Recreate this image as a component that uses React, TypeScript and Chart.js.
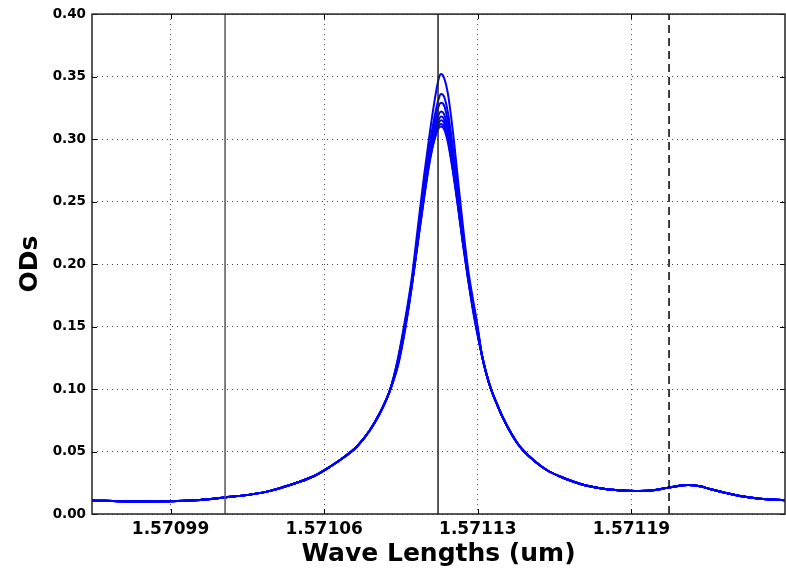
import React, { useEffect, useRef } from "react";
import { Chart, registerables } from "chart.js";

Chart.register(...registerables);

// X axis tick positions (wavelength, um) and their printed labels
const xTickValues = [1.570993, 1.5710595, 1.571126, 1.5711925];
const xTickLabels = ["1.57099", "1.57106", "1.57113", "1.57119"];
const xMin = 1.570959;
const xMax = 1.571259;
const yMin = 0;
const yMax = 0.4;

// Vertical marker lines (wavelengths)
const markerWl = [1.5710166, 1.5711088, 1.5712088];

// Shared left tail of the spectra
const leftTailWl = [
  1.570959, 1.5709755, 1.5709928, 1.5710058, 1.5710166, 1.5710274, 1.5710361,
  1.5710447, 1.5710547, 1.571062, 1.5710685, 1.5710737, 1.5710793, 1.5710837,
  1.571088,
];
const leftTailOd = [
  0.0108, 0.0101, 0.0102, 0.0112, 0.0132, 0.0155, 0.0185, 0.0232, 0.03, 0.0378,
  0.046, 0.054, 0.067, 0.081, 0.099,
];

// Peak region, one row per spectrum
const coreWl = [
  1.5710915, 1.5710945, 1.5710975, 1.5711001, 1.5711027, 1.5711053, 1.5711075,
  1.5711092, 1.5711101, 1.5711114, 1.5711131, 1.5711153, 1.5711174, 1.5711196,
  1.5711218, 1.5711239, 1.5711257,
];
const coreOd1 = [0.125, 0.155, 0.19, 0.23, 0.27, 0.306, 0.333, 0.349, 0.352, 0.349, 0.336, 0.305, 0.268, 0.23, 0.196, 0.172, 0.153];
const coreOd2 = [0.124, 0.153, 0.187, 0.225, 0.263, 0.297, 0.32, 0.333, 0.336, 0.334, 0.321, 0.292, 0.259, 0.225, 0.193, 0.169, 0.151];
const coreOd3 = [0.123, 0.152, 0.186, 0.223, 0.26, 0.293, 0.314, 0.327, 0.329, 0.327, 0.314, 0.287, 0.255, 0.222, 0.192, 0.168, 0.15];
const coreOd4 = [0.122, 0.151, 0.185, 0.221, 0.257, 0.29, 0.31, 0.32, 0.322, 0.32, 0.308, 0.282, 0.252, 0.22, 0.191, 0.167, 0.149];
const coreOd5 = [0.121, 0.15, 0.184, 0.22, 0.255, 0.288, 0.307, 0.316, 0.318, 0.316, 0.304, 0.279, 0.25, 0.219, 0.19, 0.166, 0.148];
const coreOd6 = [0.12, 0.149, 0.184, 0.219, 0.254, 0.286, 0.304, 0.313, 0.315, 0.313, 0.301, 0.277, 0.248, 0.217, 0.189, 0.165, 0.147];
const coreOd7 = [0.12, 0.148, 0.183, 0.218, 0.253, 0.284, 0.302, 0.311, 0.312, 0.31, 0.299, 0.275, 0.247, 0.216, 0.188, 0.164, 0.146];
const coreOd8 = [0.119, 0.147, 0.183, 0.218, 0.252, 0.283, 0.301, 0.309, 0.31, 0.308, 0.297, 0.273, 0.246, 0.216, 0.188, 0.163, 0.145];

// Shared right tail of the spectra
const rightTailWl = [
  1.5711278, 1.5711296, 1.5711317, 1.5711343, 1.5711369, 1.57114, 1.571143,
  1.5711456, 1.5711508, 1.571156, 1.5711616, 1.5711672, 1.5711724, 1.5711776,
  1.5711867, 1.5711941, 1.5712006, 1.5712092, 1.571217, 1.5712222, 1.5712265,
  1.571233, 1.5712395, 1.5712482, 1.571259,
];
const rightTailOd = [
  0.127, 0.113, 0.1, 0.088, 0.077, 0.066, 0.057, 0.051, 0.042, 0.035, 0.03,
  0.026, 0.023, 0.021, 0.019, 0.0184, 0.0188, 0.0213, 0.0232, 0.0222, 0.02,
  0.017, 0.0144, 0.0122, 0.0111,
];

const FONT = "'DejaVu Sans', 'Liberation Sans', sans-serif";

const framePlugin = {
  id: "frameTicks",
  afterDatasetsDraw(chart: any) {
    const { ctx, chartArea, scales } = chart;
    const { left, right, top, bottom } = chartArea;
    const x = scales.x;
    const y = scales.y;
    ctx.save();
    ctx.setLineDash([]);
    ctx.strokeStyle = "#000";
    ctx.lineWidth = 1;
    ctx.beginPath();
    x.ticks.forEach((t: any) => {
      const px = Math.round(x.getPixelForValue(t.value)) + 0.5;
      ctx.moveTo(px, bottom);
      ctx.lineTo(px, bottom - 5);
      ctx.moveTo(px, top);
      ctx.lineTo(px, top + 5);
    });
    y.ticks.forEach((t: any) => {
      const py = Math.round(y.getPixelForValue(t.value)) + 0.5;
      ctx.moveTo(left, py);
      ctx.lineTo(left + 5, py);
      ctx.moveTo(right, py);
      ctx.lineTo(right - 5, py);
    });
    ctx.stroke();
    ctx.strokeStyle = "#222";
    ctx.lineWidth = 1.5;
    ctx.strokeRect(left, top, right - left, bottom - top);
    ctx.restore();
  },
};

export default function App() {
  const ref = useRef<HTMLCanvasElement>(null);

  useEffect(() => {
    document.body.style.margin = "0";
    const cores = [coreOd1, coreOd2, coreOd3, coreOd4, coreOd5, coreOd6, coreOd7, coreOd8];
    const makeSeries = (core: number[]) => [
      ...leftTailWl.map((w, i) => ({ x: w, y: leftTailOd[i] })),
      ...coreWl.map((w, i) => ({ x: w, y: core[i] })),
      ...rightTailWl.map((w, i) => ({ x: w, y: rightTailOd[i] })),
    ];
    const markerColors = ["#555", "#222", "#000"];
    const datasets: any[] = [
      ...markerWl.map((w, i) => ({
        data: [
          { x: w, y: yMin },
          { x: w, y: yMax },
        ],
        borderColor: markerColors[i],
        borderWidth: 1.5,
        borderDash: i === 2 ? [8, 5] : [],
        pointRadius: 0,
        tension: 0,
        order: 0,
      })),
      ...cores.map((c) => ({
        data: makeSeries(c),
        borderColor: "#0000ff",
        borderWidth: 2,
        pointRadius: 0,
        cubicInterpolationMode: "monotone",
        order: 1,
      })),
    ];

    const tickFontY = { family: FONT, size: 13.5, weight: "bold" as const };
    const tickFontX = { family: FONT, size: 17, weight: "bold" as const };
    const titleFont = { family: FONT, size: 25, weight: "bold" as const, lineHeight: 1.1 };

    const chart = new Chart(ref.current as HTMLCanvasElement, {
      type: "line",
      data: { datasets },
      options: {
        animation: false,
        responsive: false,
        devicePixelRatio: 1,
        layout: { padding: { top: 14, right: 1, left: 0, bottom: 0 } },
        plugins: { legend: { display: false }, tooltip: { enabled: false } },
        scales: {
          x: {
            type: "linear",
            min: xMin,
            max: xMax,
            afterBuildTicks: (s: any) => {
              s.ticks = xTickValues.map((v) => ({ value: v }));
            },
            afterFit: (s: any) => {
              s.height = 54;
            },
            ticks: {
              callback: (_v: any, i: number) => xTickLabels[i],
              font: tickFontX,
              color: "#000",
              padding: 5,
              maxRotation: 0,
              autoSkip: false,
            },
            grid: { color: "#444", lineWidth: 1, drawTicks: false },
            border: { display: false, dash: [1, 4] },
            title: {
              display: true,
              text: "Wave Lengths (um)",
              font: titleFont,
              color: "#000",
              padding: { top: 0, bottom: 0 },
            },
          },
          y: {
            type: "linear",
            min: yMin,
            max: yMax,
            afterFit: (s: any) => {
              s.width = 92;
            },
            ticks: {
              stepSize: 0.05,
              callback: (v: any) => Number(v).toFixed(2),
              font: tickFontY,
              color: "#000",
              padding: 6,
            },
            grid: { color: "#444", lineWidth: 1, drawTicks: false },
            border: { display: false, dash: [1, 4] },
            title: {
              display: true,
              text: "ODs",
              font: titleFont,
              color: "#000",
              padding: { top: 17, bottom: 0 },
            },
          },
        },
      } as any,
      plugins: [framePlugin],
    });
    return () => chart.destroy();
  }, []);

  return (
    <div style={{ width: 786, height: 568 }}>
      <canvas ref={ref} width={786} height={568} style={{ display: "block" }} />
    </div>
  );
}
